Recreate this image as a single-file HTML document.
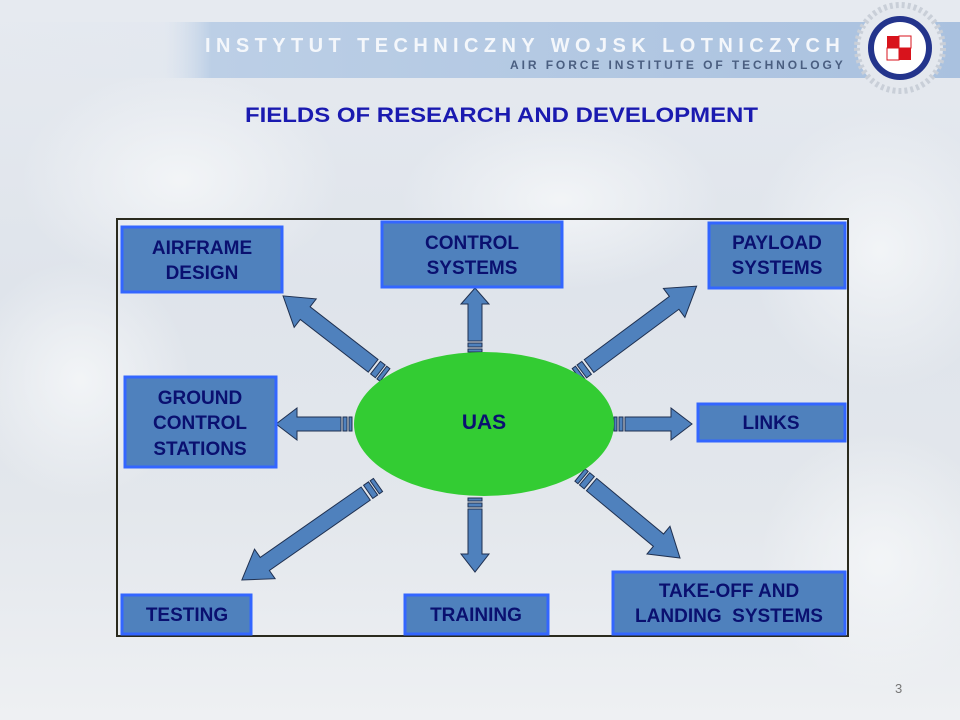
<!DOCTYPE html>
<html><head><meta charset="utf-8"><style>
html,body{margin:0;padding:0;width:960px;height:720px;overflow:hidden;}
body{background:linear-gradient(180deg,#e6eaf0 0%,#dfe4eb 40%,#e3e7ec 70%,#eef0f3 100%);font-family:"Liberation Sans",sans-serif;}
</style></head><body>
<svg width="960" height="720" viewBox="0 0 960 720" xmlns="http://www.w3.org/2000/svg" style="position:absolute;left:0;top:0">
<defs>
<linearGradient id="band" x1="0" x2="1" y1="0" y2="0">
<stop offset="0" stop-color="#dfe6f0" stop-opacity="0"/><stop offset="0.17" stop-color="#dfe6f0" stop-opacity="0.3"/><stop offset="0.22" stop-color="#bccfe6"/><stop offset="1" stop-color="#a9c1df"/>
</linearGradient>
<radialGradient id="cl" cx="0.5" cy="0.5" r="0.5"><stop offset="0" stop-color="#f4f6f8" stop-opacity="0.9"/><stop offset="1" stop-color="#f4f6f8" stop-opacity="0"/></radialGradient>
</defs>
<ellipse cx="180" cy="180" rx="160" ry="110" fill="url(#cl)"/>
<ellipse cx="880" cy="250" rx="130" ry="140" fill="url(#cl)"/>
<ellipse cx="80" cy="380" rx="110" ry="120" fill="url(#cl)"/>
<ellipse cx="560" cy="200" rx="160" ry="90" fill="url(#cl)"/>
<ellipse cx="880" cy="560" rx="120" ry="130" fill="url(#cl)"/>
<rect x="0" y="22" width="960" height="56" fill="url(#band)"/>
<text x="205" y="52" font-size="20" font-weight="bold" fill="#f4f7fb" letter-spacing="5.2" textLength="640">INSTYTUT TECHNICZNY WOJSK LOTNICZYCH</text>
<text x="510" y="69" font-size="12" font-weight="bold" fill="#4a5e80" letter-spacing="2.2" textLength="335">AIR FORCE INSTITUTE OF TECHNOLOGY</text>
<circle cx="900" cy="48" r="43" fill="#e4e8ee" stroke="#c9cfd8" stroke-width="6" stroke-dasharray="3 3"/>
<circle cx="900" cy="48" r="29" fill="#fff" stroke="#23348c" stroke-width="6"/>
<rect x="887" y="36" width="12" height="12" fill="#d8131c"/><rect x="899" y="36" width="12" height="12" fill="#fff" stroke="#d8131c"/>
<rect x="887" y="48" width="12" height="12" fill="#fff" stroke="#d8131c"/><rect x="899" y="48" width="12" height="12" fill="#d8131c"/>
<text x="245" y="122" font-size="21" font-weight="bold" fill="#1a1ab0" textLength="513" lengthAdjust="spacingAndGlyphs">FIELDS OF RESEARCH AND DEVELOPMENT</text>
<rect x="117" y="219" width="731" height="417" fill="none" stroke="#2a2a1e" stroke-width="2"/>
<g fill="#4f81bd" stroke="#1f3050" stroke-width="1">
<g transform="translate(475,352) rotate(-90)"><rect x="0" y="-7" width="3" height="14"/><rect x="5" y="-7" width="4" height="14"/><path d="M11,-7H48V-14L64,0L48,14V7H11Z"/></g>
<g transform="translate(475,498) rotate(90)"><rect x="0" y="-7" width="3" height="14"/><rect x="5" y="-7" width="4" height="14"/><path d="M11,-7H56V-14L74,0L56,14V7H11Z"/></g>
<g transform="translate(352,424) rotate(180)"><rect x="0" y="-7" width="3" height="14"/><rect x="5" y="-7" width="4" height="14"/><path d="M11,-7H55V-16L76,0L55,16V7H11Z"/></g>
<g transform="translate(614,424)"><rect x="0" y="-7" width="3" height="14"/><rect x="5" y="-7" width="4" height="14"/><path d="M11,-7H57V-16L78,0L57,16V7H11Z"/></g>
<g transform="translate(385,375) rotate(-142.2)"><rect x="0" y="-8" width="4" height="16"/><rect x="6" y="-8" width="6" height="16"/><path d="M15,-8H101V-18L129,0L101,18V8H15Z"/></g>
<g transform="translate(577,375) rotate(-36.6)"><rect x="0" y="-8" width="4" height="16"/><rect x="6" y="-8" width="6" height="16"/><path d="M15,-8H121V-18L149,0L121,18V8H15Z"/></g>
<g transform="translate(378,485) rotate(145.1)"><rect x="0" y="-8" width="4" height="16"/><rect x="6" y="-8" width="6" height="16"/><path d="M15,-8H138V-18L166,0L138,18V8H15Z"/></g>
<g transform="translate(580,475) rotate(39.7)"><rect x="0" y="-8" width="4" height="16"/><rect x="6" y="-8" width="6" height="16"/><path d="M15,-8H102V-18L130,0L102,18V8H15Z"/></g>
</g>
<ellipse cx="484" cy="424" rx="130" ry="72" fill="#33cc33"/>
<text x="484" y="429" text-anchor="middle" font-size="21" font-weight="bold" fill="#0a1070">UAS</text>
<g fill="#4f81bd" stroke="#3366ff" stroke-width="3">
<rect x="122" y="227" width="160" height="65"/>
<rect x="382" y="222" width="180" height="65"/>
<rect x="709" y="223" width="136" height="65"/>
<rect x="125" y="377" width="151" height="90"/>
<rect x="698" y="404" width="147" height="37"/>
<rect x="122" y="595" width="129" height="39"/>
<rect x="405" y="595" width="143" height="39"/>
<rect x="613" y="572" width="232" height="62"/>
</g>
<g font-size="19" font-weight="bold" fill="#0a1070" text-anchor="middle">
<text x="202" y="254">AIRFRAME</text><text x="202" y="279">DESIGN</text>
<text x="472" y="249">CONTROL</text><text x="472" y="274">SYSTEMS</text>
<text x="777" y="249">PAYLOAD</text><text x="777" y="274">SYSTEMS</text>
<text x="200" y="404">GROUND</text><text x="200" y="429">CONTROL</text><text x="200" y="455">STATIONS</text>
<text x="771" y="429">LINKS</text>
<text x="187" y="621">TESTING</text>
<text x="476" y="621">TRAINING</text>
<text x="729" y="597">TAKE-OFF AND</text><text x="729" y="622" xml:space="preserve">LANDING  SYSTEMS</text>
</g>
<text x="895" y="693" font-size="13" fill="#777">3</text>
</svg>
</body></html>
